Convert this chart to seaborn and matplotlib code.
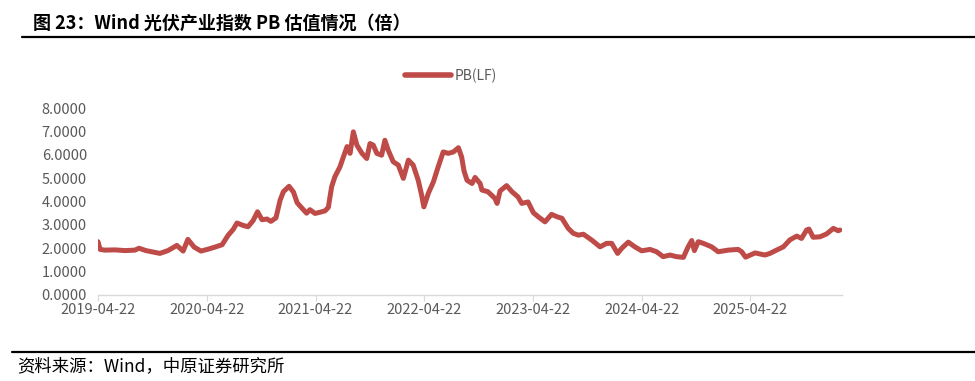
import pandas as pd
import matplotlib
matplotlib.use('Agg')
import matplotlib.pyplot as plt
import matplotlib.dates as mdates
from matplotlib.lines import Line2D
import seaborn as sns

# PB(LF) readings taken off the reference chart
dates = [
    '2019-04-22', '2019-04-29', '2019-05-15', '2019-06-18', '2019-07-22', '2019-08-24',
    '2019-09-07', '2019-09-30', '2019-10-20', '2019-11-16', '2019-12-13', '2020-01-12',
    '2020-02-02', '2020-02-18', '2020-03-10', '2020-04-02', '2020-04-26', '2020-05-19',
    '2020-06-12', '2020-07-02', '2020-07-19', '2020-08-01', '2020-08-21', '2020-09-07',
    '2020-09-24', '2020-10-09', '2020-10-24', '2020-11-10', '2020-11-23', '2020-12-10',
    '2020-12-24', '2021-01-04', '2021-01-23', '2021-02-07', '2021-02-19', '2021-03-07',
    '2021-03-23', '2021-04-03', '2021-04-20', '2021-05-07', '2021-05-24', '2021-06-04',
    '2021-06-15', '2021-06-26', '2021-07-13', '2021-07-23', '2021-08-06', '2021-08-16',
    '2021-08-27', '2021-09-08', '2021-09-25', '2021-10-11', '2021-10-22', '2021-11-02',
    '2021-11-14', '2021-11-30', '2021-12-11', '2021-12-22', '2022-01-08', '2022-01-25',
    '2022-02-11', '2022-02-28', '2022-03-16', '2022-04-02', '2022-04-13', '2022-04-21',
    '2022-05-06', '2022-05-23', '2022-06-08', '2022-06-25', '2022-07-12', '2022-07-29',
    '2022-08-15', '2022-08-26', '2022-09-03', '2022-09-13', '2022-09-30', '2022-10-10',
    '2022-10-27', '2022-11-02', '2022-11-22', '2022-12-16', '2022-12-23', '2023-01-02',
    '2023-01-24', '2023-02-11', '2023-03-03', '2023-03-16', '2023-04-06', '2023-04-24',
    '2023-05-10', '2023-06-02', '2023-06-24', '2023-07-12', '2023-07-29', '2023-08-19',
    '2023-09-05', '2023-09-22', '2023-10-09', '2023-11-06', '2023-12-04', '2023-12-26',
    '2024-01-12', '2024-02-01', '2024-02-15', '2024-03-08', '2024-03-30', '2024-04-22',
    '2024-05-20', '2024-06-11', '2024-07-03', '2024-07-26', '2024-08-17', '2024-09-09',
    '2024-09-25', '2024-10-07', '2024-10-16', '2024-10-29', '2024-11-15', '2024-12-13',
    '2025-01-04', '2025-02-07', '2025-03-12', '2025-03-24', '2025-04-06', '2025-05-08',
    '2025-06-10', '2025-06-27', '2025-07-19', '2025-08-11', '2025-09-02', '2025-09-25',
    '2025-10-11', '2025-10-28', '2025-11-05', '2025-11-19', '2025-12-12', '2026-01-03',
    '2026-01-26', '2026-02-11', '2026-02-17',
]
pb = [
    2.28, 1.95, 1.92, 1.93, 1.90, 1.92,
    2.00, 1.90, 1.85, 1.78, 1.90, 2.12,
    1.88, 2.38, 2.05, 1.88, 1.96, 2.05,
    2.15, 2.55, 2.80, 3.08, 2.98, 2.92,
    3.18, 3.56, 3.22, 3.25, 3.15, 3.30,
    4.06, 4.42, 4.65, 4.40, 3.95, 3.72,
    3.50, 3.65, 3.49, 3.54, 3.60, 3.75,
    4.63, 5.06, 5.48, 5.85, 6.35, 6.06,
    6.98, 6.41, 6.06, 5.84, 6.48, 6.41,
    6.06, 5.98, 6.62, 6.20, 5.70, 5.56,
    4.99, 5.77, 5.56, 4.91, 4.30, 3.77,
    4.35, 4.84, 5.48, 6.12, 6.06, 6.12,
    6.30, 5.90, 5.30, 4.91, 4.77, 5.03,
    4.77, 4.49, 4.42, 4.13, 3.92, 4.45,
    4.68, 4.42, 4.20, 3.92, 3.98, 3.52,
    3.35, 3.13, 3.45, 3.35, 3.28, 2.85,
    2.64, 2.56, 2.60, 2.35, 2.06, 2.21,
    2.21, 1.78, 2.00, 2.26, 2.06, 1.89,
    1.95, 1.85, 1.64, 1.71, 1.64, 1.61,
    2.06, 2.33, 1.90, 2.28, 2.21, 2.06,
    1.85, 1.92, 1.95, 1.85, 1.62, 1.80,
    1.71, 1.78, 1.92, 2.06, 2.36, 2.52,
    2.42, 2.78, 2.82, 2.47, 2.49, 2.61,
    2.85, 2.75, 2.78,
]
tick_dates = ['2019-04-22', '2020-04-22', '2021-04-22', '2022-04-22',
              '2023-04-22', '2024-04-22', '2025-04-22']
y_ticks = [0, 1, 2, 3, 4, 5, 6, 7, 8]

title = '图 23：Wind 光伏产业指数 PB 估值情况（倍）'
source = '资料来源：Wind，中原证券研究所'
series_name = 'PB(LF)'

df = pd.DataFrame({'date': pd.to_datetime(dates), 'pb': pb})

sns.set_theme(style='white')
plt.rcParams['font.family'] = ['Noto Sans CJK SC', 'DejaVu Sans']

red = '#BE4B48'
grey = '#595959'

fig = plt.figure(figsize=(9.75, 3.81), dpi=100)
ax = fig.add_axes([98 / 975, 1 - 295 / 381, (842 - 98) / 975, (295 - 108) / 381])

sns.lineplot(data=df, x='date', y='pb', ax=ax, color=red, linewidth=3.6, legend=False)

ax.set_xlim(pd.Timestamp('2019-04-22'), pd.Timestamp('2026-02-24'))
ax.set_ylim(0, 8)
ax.set_xticks(pd.to_datetime(tick_dates))
ax.xaxis.set_major_formatter(mdates.DateFormatter('%Y-%m-%d'))
ax.set_yticks(y_ticks)
ax.set_yticklabels(['%.4f' % v for v in y_ticks])
ax.set_xlabel('')
ax.set_ylabel('')

for s in ['top', 'right', 'left']:
    ax.spines[s].set_visible(False)
ax.spines['bottom'].set_color('#D9D9D9')
ax.spines['bottom'].set_linewidth(1.0)
ax.tick_params(axis='x', colors=grey, labelsize=10.5, length=4, width=0.8, pad=2,
               color='#D9D9D9', direction='out', bottom=True)
ax.tick_params(axis='y', colors=grey, labelsize=10.5, length=0, pad=8)

handle = Line2D([0], [0], color=red, linewidth=4)
fig.legend([handle], [series_name], loc='center', bbox_to_anchor=(451 / 975, 1 - 76 / 381),
           frameon=False, fontsize=10, handlelength=3.3, handletextpad=0.3,
           labelcolor=grey)

fig.text(33 / 975, 1 - 23 / 381, title, fontsize=13, fontweight='bold',
         va='center', ha='left', color='black')
fig.add_artist(Line2D([22 / 975, 1], [1 - 37 / 381, 1 - 37 / 381], color='black', linewidth=1.6))
fig.add_artist(Line2D([12 / 975, 1], [1 - 352 / 381, 1 - 352 / 381], color='black', linewidth=1.6))
fig.text(17 / 975, 1 - 366 / 381, source, fontsize=12.5, va='center', ha='left', color='black')

fig.savefig('out.png', dpi=100)
